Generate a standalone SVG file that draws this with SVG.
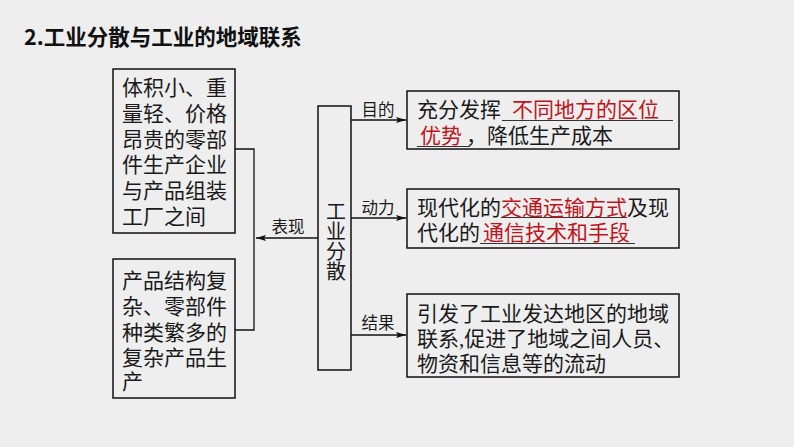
<svg xmlns="http://www.w3.org/2000/svg" width="794" height="447" viewBox="0 0 794 447">
<style>
text{font-family:"Liberation Serif","Noto Sans CJK SC",serif;fill:#1a1a1a}
.title{font-family:"Noto Sans CJK SC","Noto Sans",sans-serif;font-size:21.5px;font-weight:bold;fill:#111}
.t{font-size:21px}
.c{font-size:20px;writing-mode:tb;}
.lbl{font-size:16.5px;text-anchor:middle}
.red{fill:#c0141c}
.box{fill:none;stroke:#111;stroke-width:1.5}
.ln{fill:none;stroke:#111;stroke-width:1.3}
.ul{stroke:#333;stroke-width:1}
</style>
<defs>
<marker id="ah" viewBox="0 0 10 6" refX="10" refY="3" markerWidth="10" markerHeight="6" markerUnits="userSpaceOnUse" orient="auto">
<path d="M0,0 L10,3 L0,6 L2,3 Z" fill="#111"/>
</marker>
</defs>
<rect width="794" height="447" fill="#eeeeee"/>
<text class="title" x="24" y="45">2.工业分散与工业的地域联系</text>

<g id="left1">
<rect class="box" x="113" y="69" width="122" height="164"/>
<text class="t"><tspan x="122" y="95">体积小、重</tspan><tspan x="122" y="121">量轻、价格</tspan><tspan x="122" y="147">昂贵的零部</tspan><tspan x="122" y="172">件生产企业</tspan><tspan x="122" y="198">与产品组装</tspan><tspan x="122" y="224">工厂之间</tspan></text>
</g>

<g id="left2">
<rect class="box" x="113" y="259" width="122" height="139"/>
<text class="t"><tspan x="122" y="288">产品结构复</tspan><tspan x="122" y="314">杂、零部件</tspan><tspan x="122" y="340">种类繁多的</tspan><tspan x="122" y="365">复杂产品生</tspan><tspan x="122" y="389">产</tspan></text>
</g>

<g id="center">
<rect class="box" x="318" y="106" width="33" height="264"/>
<text class="c" x="334.5" y="201">工业分散</text>
</g>

<g id="r1">
<rect class="box" x="407" y="91" width="272" height="58"/>
<line class="ul" x1="502" y1="120.5" x2="673" y2="120.5"/>
<line class="ul" x1="417" y1="146.5" x2="470" y2="146.5"/>
<text class="t"><tspan x="417" y="117">充分发挥</tspan><tspan class="red" x="512" y="117">不同地方的区位</tspan><tspan class="red" x="420" y="143">优势</tspan><tspan x="466" y="143">，</tspan><tspan x="487" y="143">降低生产成本</tspan></text>
</g>

<g id="r2">
<rect class="box" x="407" y="189" width="272" height="59"/>
<line class="ul" x1="501" y1="217.5" x2="627" y2="217.5"/>
<line class="ul" x1="480" y1="243.5" x2="635" y2="243.5"/>
<text class="t"><tspan x="417" y="215">现代化的</tspan><tspan class="red" x="501" y="215">交通运输方式</tspan><tspan x="627" y="215">及现</tspan><tspan x="417" y="240">代化的</tspan><tspan class="red" x="483" y="240">通信技术和手段</tspan></text>
</g>

<g id="r3">
<rect class="box" x="407" y="294" width="272" height="83"/>
<text class="t"><tspan x="417" y="321">引发了工业发达地区的地域</tspan><tspan x="417" y="346">联系,促进了地域之间人员、</tspan><tspan x="417" y="371">物资和信息等的流动</tspan></text>
</g>

<g id="connectors">
<polyline class="ln" points="235,149 254,149 254,330 235,330"/>
<line class="ln" x1="318" y1="238" x2="256" y2="238" marker-end="url(#ah)"/>
<line class="ln" x1="351" y1="120" x2="406" y2="120" marker-end="url(#ah)"/>
<line class="ln" x1="351" y1="218" x2="406" y2="218" marker-end="url(#ah)"/>
<line class="ln" x1="351" y1="335" x2="406" y2="335" marker-end="url(#ah)"/>
<text class="lbl" x="288" y="233">表现</text>
<text class="lbl" x="378" y="116">目的</text>
<text class="lbl" x="378" y="214">动力</text>
<text class="lbl" x="378" y="329">结果</text>
</g>
</svg>
